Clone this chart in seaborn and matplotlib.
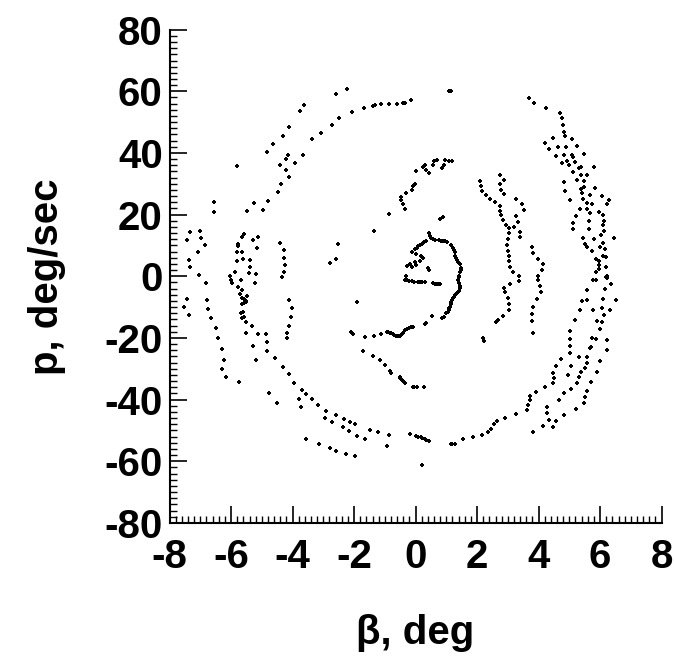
import pandas as pd
import matplotlib
matplotlib.use("Agg")
import matplotlib.pyplot as plt
import seaborn as sns
from matplotlib.ticker import MultipleLocator

# Sideslip angle beta (deg) vs roll rate p (deg/sec), grouped by area of the portrait.
upper_left = [
    (-3.63, 55.5), (-3.77, 53.5), (-2.72, 49.0), (-4.12, 48.3), (-3.06, 46.5), (-4.30, 45.5),
    (-3.36, 44.4), (-4.65, 42.8), (-4.84, 40.4), (-4.15, 39.5), (-3.66, 39.4), (-4.23, 37.9),
    (-4.40, 36.2), (-3.93, 36.8), (-5.80, 35.9), (-4.20, 34.5), (-4.13, 32.3), (-4.38, 29.9),
    (-4.48, 27.4), (-4.79, 24.4), (-6.55, 24.2), (-5.27, 23.7), (-6.55, 20.7), (-5.49, 21.1),
    (-4.95, 21.6), (-7.34, 14.3), (-7.02, 14.8), (-7.42, 11.7), (-6.98, 12.3), (-6.85, 10.2),
    (-7.09, 7.8), (-7.37, 5.4), (-7.34, 2.9), (-7.04, 0.5), (-5.57, 13.7), (-5.63, 12.9),
    (-5.13, 12.7), (-5.28, 11.7), (-5.78, 10.5), (-5.79, 9.7), (-5.81, 7.9), (-5.63, 7.9),
    (-5.15, 9.1), (-5.81, 5.1), (-5.60, 5.7), (-5.39, 5.2), (-5.38, 3.0), (-5.88, 1.3),
    (-5.42, 1.0), (-5.18, 0.6), (-6.02, 0.0), (-4.40, 10.7), (-4.28, 8.4), (-4.27, 5.9),
    (-4.26, 3.6), (-4.29, 1.5), (-4.33, -0.1), (-2.79, 4.4),
]

upper_mid = [
    (-2.60, 59.2), (-2.24, 60.8), (-2.49, 51.4), (-2.06, 53.3), (-1.68, 54.6), (-1.39, 55.4),
    (-1.31, 55.6), (-1.11, 55.9), (-0.88, 56.0), (-0.60, 56.0), (-0.41, 56.1), (-0.35, 56.3),
    (-0.14, 57.3), (1.10, 60.0), (1.16, 60.0),
    (0.02, 34.1), (0.24, 35.4), (0.29, 36.2), (0.35, 34.6), (0.42, 33.4), (0.57, 36.2),
    (0.60, 37.3), (0.70, 37.6), (0.87, 35.0), (0.92, 36.2), (0.97, 37.7), (1.08, 37.5),
    (1.18, 37.3), (-0.03, 30.1), (-0.07, 29.2), (-0.12, 28.1), (-0.30, 27.0), (-0.47, 25.6),
    (-0.41, 23.6), (-0.47, 24.6), (-0.36, 21.8), (-0.87, 20.3), (-1.35, 14.8), (0.78, 18.7),
    (0.89, 19.2), (-2.52, 10.5), (-2.60, 5.5),
    (2.08, 30.8), (2.13, 29.2), (2.16, 27.8), (2.29, 26.5), (2.42, 25.2), (2.59, 24.1),
]

inner_spiral = [
    (0.43, 13.9), (0.47, 13.2), (0.51, 12.5), (0.56, 12.0), (0.62, 11.7), (0.75, 11.7),
    (0.82, 11.5), (0.89, 11.4), (0.96, 11.3), (1.03, 11.2), (1.14, 10.3), (1.21, 9.2),
    (1.24, 8.5), (1.27, 7.9), (1.29, 6.5), (1.31, 5.9), (1.34, 5.2), (1.38, 4.6), (1.43, 4.0),
    (1.48, 2.7), (1.47, 2.0), (1.46, 1.3), (1.42, 0.0), (0.35, 11.4), (0.28, 11.0),
    (0.22, 10.5), (0.15, 10.1), (0.08, 9.7), (0.03, 9.2), (-0.03, 8.7), (-0.11, 7.9),
    (0.02, 7.3), (0.16, 6.5), (0.24, 5.8), (0.13, 5.1), (-0.03, 4.6), (-0.19, 4.0),
    (-0.27, 3.3), (-0.12, 2.9), (0.02, 3.6), (0.40, 2.7), (0.45, 1.9), (-0.32, 0.0),
    (-0.34, -1.2), (-0.27, -1.3), (-0.20, -1.5), (-0.12, -1.6), (-0.05, -1.7), (0.08, -1.9),
    (0.15, -1.8), (0.21, -1.7), (0.29, -1.9), (0.56, -2.3), (0.62, -2.4), (0.67, -2.5),
    (0.74, -2.5), (0.81, -2.5), (1.40, -0.1), (1.37, -1.2), (1.40, -2.3), (1.45, -3.0),
    (1.43, -3.7), (1.40, -4.8), (1.35, -5.5), (1.27, -6.1), (1.24, -6.6), (1.21, -7.2),
    (1.18, -7.8), (1.16, -8.4), (1.14, -9.1), (1.13, -9.9), (1.10, -10.4), (1.08, -11.0),
    (1.04, -11.5), (0.99, -12.0), (0.92, -13.1), (0.85, -13.6), (0.53, -12.9), (0.29, -15.6),
    (0.35, -15.3), (-0.09, -16.3), (-0.15, -16.6), (-0.20, -16.9), (-0.27, -17.1),
    (-0.34, -17.4), (-0.41, -18.5), (-0.46, -19.0), (-0.52, -19.4), (-0.57, -19.5),
    (-0.63, -19.3), (-0.69, -19.1), (-0.74, -18.8), (-0.79, -18.5), (-0.84, -18.3),
    (-0.89, -18.1), (-0.93, -18.0), (-1.11, -18.7), (-1.35, -19.3), (-1.66, -19.7),
    (-2.09, -18.2), (-2.03, -18.8), (-1.89, -8.4),
]

lower_left = [
    (-5.99, -1.2), (-5.96, -2.3), (-5.68, -1.2), (-5.79, -3.4), (-5.63, -4.4), (-5.72, -5.9),
    (-5.66, -7.2), (-5.59, -7.4), (-5.50, -8.0), (-5.48, -6.3), (-5.66, -9.1), (-5.59, -8.8),
    (-5.52, -8.4), (-5.68, -12.0), (-5.61, -11.7), (-5.66, -13.6), (-5.59, -13.3),
    (-5.50, -14.9), (-5.31, -16.0), (-5.52, -18.5), (-5.12, -18.8), (-4.87, -18.8),
    (-5.30, -22.5), (-4.82, -21.4), (-4.82, -24.1), (-5.20, -27.2), (-4.57, -26.6),
    (-4.31, -29.3), (-4.12, -31.8), (-3.95, -34.5), (-3.71, -36.9), (-3.55, -38.2),
    (-3.36, -39.9), (-3.17, -41.9), (-2.90, -43.7), (-3.79, -39.9), (-3.74, -42.5),
    (-2.95, -46.1), (-2.71, -47.2), (-4.78, -37.8), (-4.52, -41.2), (-5.74, -34.4),
    (-3.55, -52.8), (-3.14, -54.4), (-2.78, -55.6), (-5.23, -2.3), (-6.82, -2.3),
    (-7.42, -7.5), (-7.52, -10.1), (-7.37, -12.6), (-6.78, -7.7), (-6.75, -10.6),
    (-6.66, -13.6), (-6.50, -16.7), (-6.41, -19.9), (-6.29, -23.6), (-6.24, -27.0),
    (-6.31, -30.2), (-6.17, -32.6), (-4.12, -7.7), (-4.03, -10.4), (-4.04, -13.3),
    (-4.12, -16.0), (-4.17, -18.3), (-4.18, -19.9),
]

lower_mid = [
    (2.62, -14.7), (2.67, -14.2), (2.19, -20.1), (2.22, -21.0),
    (-1.71, -24.2), (-1.39, -25.7), (-1.15, -27.3), (-1.01, -28.8), (-0.84, -30.7),
    (-0.81, -31.5), (-0.52, -32.6), (-0.50, -32.9), (-0.47, -33.3), (-0.45, -33.6),
    (-0.39, -34.2), (-0.34, -34.7), (-0.09, -36.0), (-0.05, -36.0), (0.05, -36.0), (0.27, -35.8),
    (-2.60, -45.0), (-2.33, -46.3), (-2.14, -47.2), (-1.96, -47.9), (-2.36, -48.8),
    (-2.18, -50.1), (-1.89, -51.7), (-1.63, -52.9), (-1.49, -49.9), (-1.22, -50.6),
    (-0.87, -51.5), (-0.93, -54.9), (-2.58, -56.6), (-2.27, -57.6), (-1.98, -58.3),
    (-0.17, -51.2), (0.02, -51.7), (0.09, -52.0), (0.16, -52.2), (0.22, -52.5), (0.29, -52.8),
    (0.35, -53.0), (0.42, -53.3), (0.22, -61.2), (1.14, -54.4), (1.20, -54.5), (1.27, -54.5),
    (1.54, -52.9), (1.86, -52.2), (2.15, -51.5), (2.35, -50.4), (2.46, -49.5), (2.54, -48.0),
    (2.65, -46.9),
]

upper_right = [
    (3.68, 57.9), (3.86, 56.2), (4.24, 54.6), (4.68, 53.0), (4.75, 51.2), (4.80, 49.0),
    (4.84, 46.8), (4.86, 45.4), (5.09, 44.6), (4.48, 44.9), (4.21, 43.3), (4.35, 41.3),
    (4.64, 41.9), (4.89, 41.9), (5.24, 42.2), (4.55, 38.9), (4.84, 39.5), (5.09, 39.2),
    (5.11, 38.7), (5.47, 39.8), (4.75, 36.6), (4.92, 37.5), (4.98, 36.0), (5.17, 37.1),
    (5.13, 33.9), (5.30, 35.2), (5.38, 35.5), (5.39, 33.0), (5.57, 32.8), (5.81, 35.4),
    (5.25, 31.3), (5.49, 30.8), (5.49, 29.0), (4.82, 30.5), (5.38, 28.4), (5.41, 27.0),
    (5.84, 28.7), (5.67, 26.5), (4.87, 27.6), (6.06, 26.2), (6.30, 24.6), (6.21, 23.3),
    (5.45, 25.2), (5.56, 23.8), (5.74, 23.5), (5.03, 24.7), (5.35, 21.9), (5.56, 21.9),
    (5.67, 20.4), (5.97, 20.8), (6.08, 20.0), (5.22, 19.5), (6.14, 17.8), (6.11, 16.6),
    (5.65, 17.8), (5.13, 17.3), (5.11, 15.2), (6.14, 14.8), (5.63, 15.2), (6.03, 13.3),
    (6.46, 12.5), (5.43, 12.5), (5.81, 12.2), (5.52, 10.5), (5.56, 9.4), (6.08, 10.8),
    (6.00, 9.4), (5.74, 8.1), (6.15, 8.7), (6.10, 6.5), (6.19, 6.2), (5.87, 5.7),
    (5.95, 4.9), (5.97, 3.8), (5.97, 2.5), (6.19, 3.0), (5.87, 1.3), (6.21, 0.0),
    (2.88, 31.3), (2.73, 33.0), (2.75, 29.8), (2.78, 28.1), (2.88, 26.8), (2.73, 22.7),
    (2.76, 21.3), (2.78, 20.0), (2.84, 18.1), (2.94, 16.8), (3.05, 15.7), (3.03, 14.1),
    (3.00, 12.2), (2.96, 10.3), (3.00, 8.3), (3.03, 6.5), (3.05, 4.9), (3.07, 3.0),
    (3.16, 1.3), (3.27, 25.2), (3.45, 23.5), (3.54, 21.4), (3.27, 19.5), (3.34, 17.6),
    (3.21, 15.9), (3.40, 14.4), (3.38, 12.7), (3.79, 9.4), (3.81, 7.6), (3.99, 5.7),
    (4.13, 4.0), (4.11, 2.0), (3.97, 0.0), (3.35, 0.0),
]

lower_right = [
    (3.35, -1.5), (3.97, -1.2), (2.89, -3.9), (2.92, -5.0), (3.02, -7.0), (3.03, -9.1),
    (3.03, -10.9), (2.84, -12.8), (3.08, -2.6), (4.05, -3.2), (4.08, -5.0), (3.95, -7.4),
    (3.81, -9.9), (3.78, -12.2), (3.77, -14.4), (3.81, -18.5),
    (5.76, -1.2), (5.87, -1.2), (6.19, -0.1), (6.24, -0.7), (6.35, -2.5), (6.17, -4.2),
    (5.56, -4.4), (5.41, -7.9), (5.56, -7.7), (6.11, -7.5), (6.51, -7.8), (5.35, -10.9),
    (5.76, -10.9), (6.05, -10.4), (6.32, -11.0), (6.14, -12.6), (5.19, -14.2), (5.90, -14.5),
    (6.05, -14.7), (6.01, -17.2), (5.03, -17.6), (5.74, -19.9), (5.87, -20.3), (6.21, -20.7),
    (5.02, -20.4), (5.03, -22.6), (5.68, -23.2), (5.70, -22.8), (6.22, -23.9), (5.02, -24.8),
    (5.32, -26.1), (5.56, -26.1), (4.73, -26.9), (6.01, -27.5), (5.57, -28.2), (5.52, -29.9),
    (4.55, -29.0), (5.05, -29.1), (5.90, -31.2), (5.38, -31.1), (5.30, -32.6), (4.48, -31.3),
    (4.95, -32.0), (4.49, -32.9), (4.46, -34.7), (5.72, -34.2), (5.24, -34.7), (4.21, -36.0),
    (3.92, -37.4), (5.05, -36.7), (4.82, -38.0), (5.59, -37.2), (3.73, -38.7), (3.72, -40.1),
    (4.65, -40.1), (5.52, -39.0), (5.49, -41.0), (3.65, -41.7), (3.61, -43.4), (5.22, -43.0),
    (3.27, -44.7), (2.92, -46.1), (4.27, -42.5), (4.27, -44.4), (4.33, -46.6), (4.84, -45.0),
    (4.55, -46.9), (4.13, -48.6), (4.46, -48.9), (3.81, -50.6),
]

regions = {
    "upper_left": upper_left,
    "upper_mid": upper_mid,
    "inner_spiral": inner_spiral,
    "lower_left": lower_left,
    "lower_mid": lower_mid,
    "upper_right": upper_right,
    "lower_right": lower_right,
}

df = pd.concat(
    [pd.DataFrame(pts, columns=["beta", "p"]).assign(region=name) for name, pts in regions.items()],
    ignore_index=True,
)

sns.set_style("ticks")
plt.rcParams["font.family"] = ["Liberation Sans", "DejaVu Sans"]
plt.rcParams["font.weight"] = "bold"
plt.rcParams["axes.unicode_minus"] = False

fig = plt.figure(figsize=(6.74, 6.64), dpi=100)
ax = fig.add_axes([0.2516, 0.2125, 0.7300, 0.7428])

sns.scatterplot(data=df, x="beta", y="p", color="black", marker="P", s=12,
                linewidth=0, legend=False, ax=ax)

ax.set_xlim(-8, 8)
ax.set_ylim(-80, 80)
ax.xaxis.set_major_locator(MultipleLocator(2))
ax.xaxis.set_minor_locator(MultipleLocator(0.2))
ax.yaxis.set_major_locator(MultipleLocator(20))
ax.yaxis.set_minor_locator(MultipleLocator(2))

ax.tick_params(which="major", direction="in", length=12, width=1.2, color="black",
               labelsize=29, labelcolor="black")
ax.tick_params(axis="x", which="major", pad=11)
ax.tick_params(axis="y", which="major", pad=5)
ax.tick_params(which="minor", direction="in", length=5, width=1.0, color="black")
for lab in ax.get_xticklabels() + ax.get_yticklabels():
    lab.set_fontweight("bold")

for side in ("top", "right"):
    ax.spines[side].set_visible(False)
for side in ("left", "bottom"):
    ax.spines[side].set_linewidth(1.5)
    ax.spines[side].set_color("black")

ax.set_xlabel("β, deg", fontsize=29, fontweight="bold", color="black")
ax.xaxis.set_label_coords(0.5, -0.185)
ax.set_ylabel("p, deg/sec", fontsize=29, fontweight="bold", color="black")
ax.yaxis.set_label_coords(-0.21, 0.5)

fig.savefig("out.png", dpi=100)
